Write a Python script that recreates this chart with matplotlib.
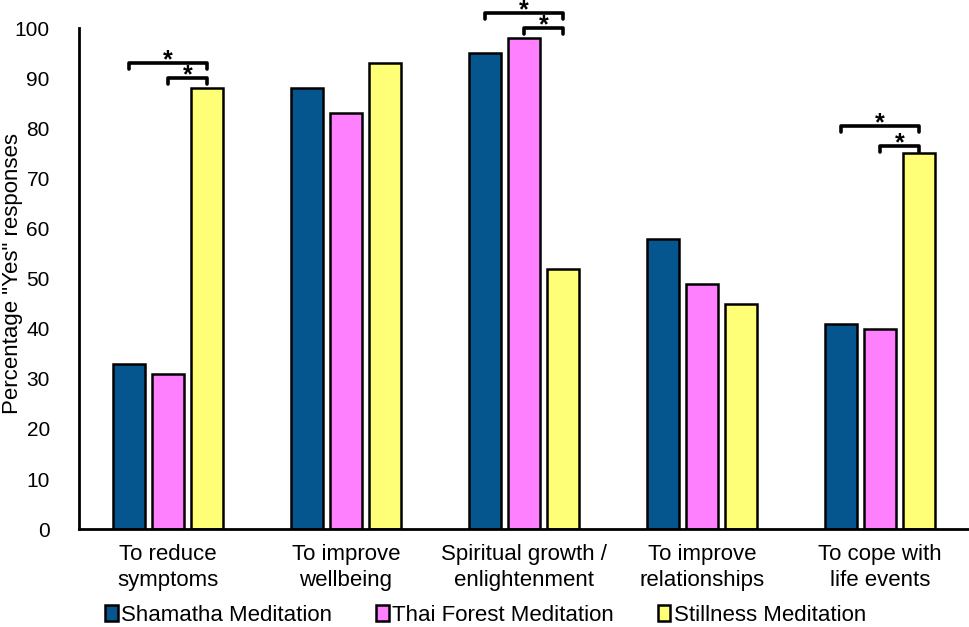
import matplotlib
matplotlib.use('Agg')
import matplotlib.pyplot as plt
import numpy as np

plt.rcParams['font.family'] = ['Liberation Sans', 'DejaVu Sans']

# ── data ──
categories = ['To reduce\nsymptoms', 'To improve\nwellbeing', 'Spiritual growth /\nenlightenment',
              'To improve\nrelationships', 'To cope with\nlife events']
series_names = ['Shamatha Meditation', 'Thai Forest Meditation', 'Stillness Meditation']
shamatha = [33, 88, 95, 58, 41]
thai_forest = [31, 83, 98, 49, 40]
stillness = [88, 93, 52, 45, 75]
colors = ['#05558F', '#FF80FF', '#FFFF77']

# significance brackets: (group, from series, to series, height)
brackets = [(0, 0, 2, 93), (0, 1, 2, 90),
            (2, 0, 2, 103), (2, 1, 2, 100),
            (4, 0, 2, 80.5), (4, 1, 2, 76.5)]

FS = 16

fig = plt.figure(figsize=(9.69, 6.27), dpi=100)
ax = fig.add_axes([0.0815, 0.156, 0.9185, 0.799])

x = np.arange(len(categories))
width = 0.18
step = 0.22
offsets = [-step, 0, step]
for vals, name, col, off in zip([shamatha, thai_forest, stillness], series_names, colors, offsets):
    ax.bar(x + off, vals, width, color=col, edgecolor='black', linewidth=1.8, label=name)

for g, a, b, h in brackets:
    x0 = g + offsets[a]
    x1 = g + offsets[b]
    ax.plot([x0, x0, x1, x1], [h - 1.2, h, h, h - 1.2], color='black', lw=2.6,
            clip_on=False, solid_joinstyle='round', solid_capstyle='round')
    ax.annotate('*', ((x0 + x1) / 2, h), xytext=(0, -3), textcoords='offset points',
                ha='center', va='baseline', fontsize=18, fontweight='bold',
                annotation_clip=False)

ax.set_xlim(-0.5, 4.5)
ax.set_ylim(0, 100)
ax.set_yticks(range(0, 101, 10))
ax.set_xticks(x)
ax.set_xticklabels(categories, fontsize=FS, linespacing=1.3)
ax.tick_params(axis='y', length=0, labelsize=15, pad=21)
ax.tick_params(axis='x', length=0, pad=11)
for s in ['top', 'right']:
    ax.spines[s].set_visible(False)
ax.spines['bottom'].set_linewidth(2)
ax.spines['left'].set_linewidth(2)
ax.set_ylabel('Percentage "Yes" responses', fontsize=FS)
ax.yaxis.set_label_coords(-0.063, 0.51)

handles, labels = ax.get_legend_handles_labels()
fig.legend(handles, labels, loc='lower left', bbox_to_anchor=(0.095, -0.019), ncol=3,
           frameon=False, fontsize=FS, handlelength=0.55, handleheight=0.75,
           handletextpad=0.15, columnspacing=2.0, borderaxespad=0.2)

fig.savefig('out.png', dpi=100, facecolor='white')
